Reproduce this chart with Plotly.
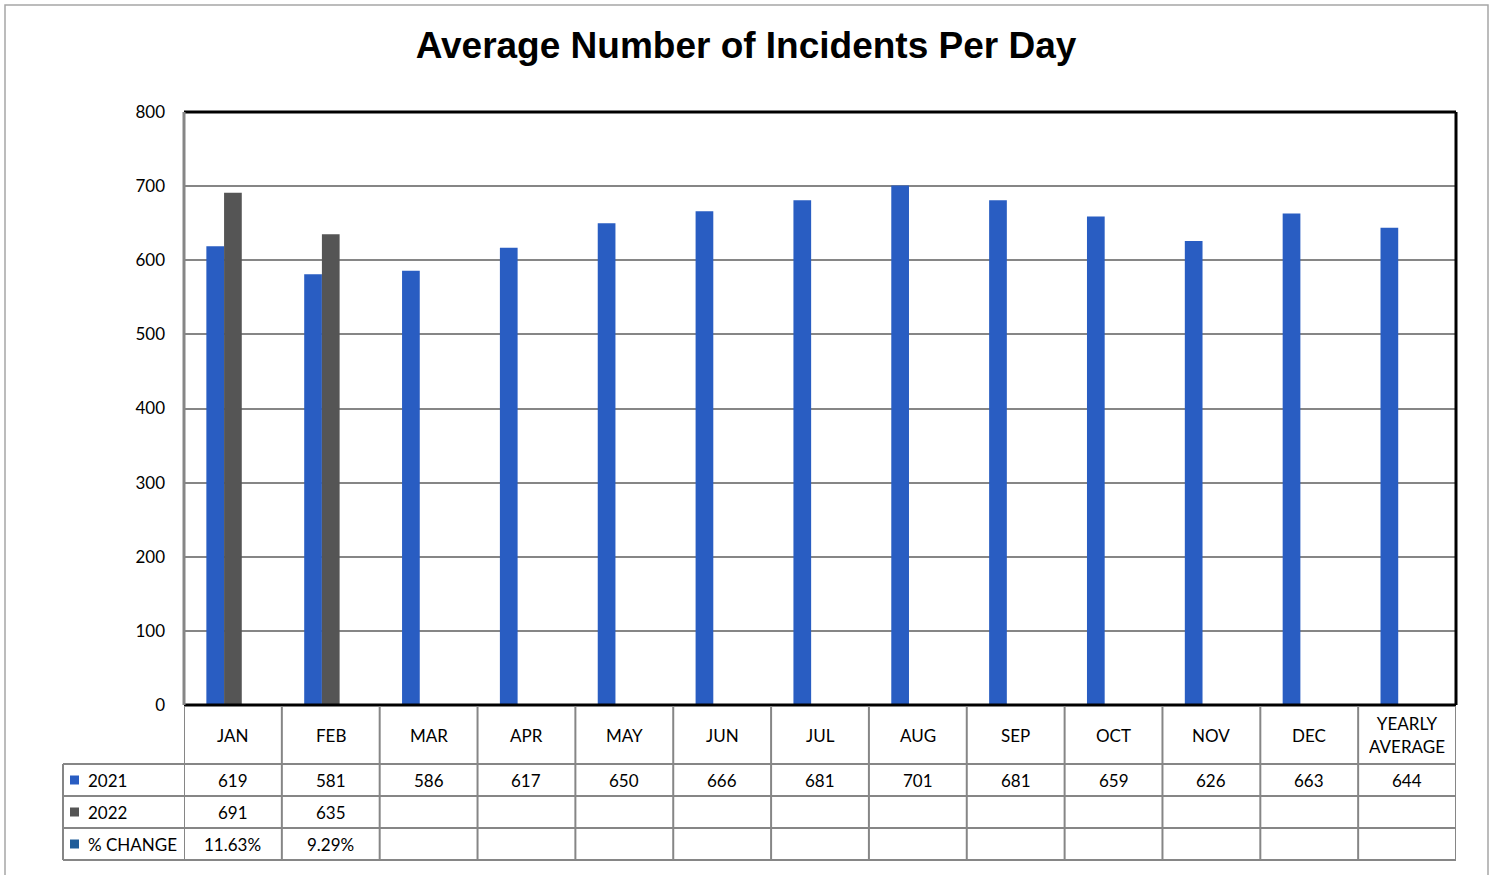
import plotly.graph_objects as go

categories = ["JAN", "FEB", "MAR", "APR", "MAY", "JUN", "JUL", "AUG", "SEP", "OCT", "NOV", "DEC", "YEARLY AVERAGE"]
header_labels = ["JAN", "FEB", "MAR", "APR", "MAY", "JUN", "JUL", "AUG", "SEP", "OCT", "NOV", "DEC", "YEARLY<br>AVERAGE"]
values_2021 = [619, 581, 586, 617, 650, 666, 681, 701, 681, 659, 626, 663, 644]
values_2022 = [691, 635, None, None, None, None, None, None, None, None, None, None, None]
pct_change = [0.1163, 0.0929, None, None, None, None, None, None, None, None, None, None, None]
pct_change_text = ["11.63%", "9.29%", "", "", "", "", "", "", "", "", "", "", ""]
series_names = ["2021", "2022", "% CHANGE"]
series_colors = ["#295DC2", "#555555", "#1F5C99"]

W, H = 1494, 875
L, R, T, B = 184, 38, 112, 170
PW, PH = W - L - R, H - T - B

def py(pixel_y):
    return (H - B - pixel_y) / PH

def px(pixel_x):
    return (pixel_x - L) / PW

fig = go.Figure()
for name, vals, col in zip(series_names, [values_2021, values_2022, pct_change], series_colors):
    fig.add_trace(go.Bar(x=categories, y=vals, name=name, marker=dict(color=col, line=dict(width=0))))

font = "Lato, 'Noto Sans', sans-serif"
grid = "#868686"
shapes = []
annotations = []

# plot-area frame
shapes.append(dict(type="line", xref="paper", yref="paper", x0=0, x1=1, y0=1, y1=1, line=dict(color="black", width=3)))
shapes.append(dict(type="line", xref="paper", yref="paper", x0=1, x1=1, y0=0, y1=1, line=dict(color="black", width=3)))
shapes.append(dict(type="line", xref="paper", yref="paper", x0=0, x1=1, y0=0, y1=0, line=dict(color="black", width=3)))
shapes.append(dict(type="line", xref="paper", yref="paper", x0=0, x1=0, y0=0, y1=1, line=dict(color=grid, width=3)))

# outer chart border
shapes.append(dict(type="rect", xref="paper", yref="paper", x0=px(5), x1=px(1488), y0=py(5), y1=py(900),
                   line=dict(color="#A6A6A6", width=1.5)))

# data table grid
row_y = [py(706), py(764), py(796), py(828), py(860)]
label_x = px(63)
n = len(categories)
for i in range(n + 1):
    shapes.append(dict(type="line", xref="x", yref="paper", x0=i - 0.5, x1=i - 0.5, y0=row_y[0], y1=row_y[4],
                       line=dict(color=grid, width=2)))
shapes.append(dict(type="line", xref="paper", yref="paper", x0=label_x, x1=label_x, y0=row_y[1], y1=row_y[4],
                   line=dict(color=grid, width=2)))
for k in range(1, 5):
    shapes.append(dict(type="line", xref="paper", yref="paper", x0=label_x, x1=1, y0=row_y[k], y1=row_y[k],
                       line=dict(color=grid, width=2)))

# header labels
for i, lab in enumerate(header_labels):
    annotations.append(dict(x=i, y=(row_y[0] + row_y[1]) / 2, xref="x", yref="paper", text=lab, showarrow=False,
                            font=dict(family=font, size=17, color="black"), xanchor="center", yanchor="middle",
                            height=52 if "<br>" in lab else None))

rows = [[str(v) for v in values_2021],
        [("" if v is None else str(v)) for v in values_2022],
        pct_change_text]
for r, row in enumerate(rows):
    yc = (row_y[r + 1] + row_y[r + 2]) / 2
    for i, t in enumerate(row):
        if t:
            annotations.append(dict(x=i, y=yc, xref="x", yref="paper", text=t, showarrow=False,
                                    font=dict(family=font, size=17, color="black"), xanchor="center", yanchor="middle"))
    # legend key
    shapes.append(dict(type="rect", xref="paper", yref="paper", x0=px(70), x1=px(79), y0=yc - 4.5 / PH, y1=yc + 4.5 / PH,
                       fillcolor=series_colors[r], line=dict(width=0)))
    annotations.append(dict(x=px(86), y=yc, xref="paper", yref="paper", text=series_names[r], showarrow=False,
                            font=dict(family=font, size=17, color="black"), xanchor="left", yanchor="middle"))

fig.update_layout(
    width=W, height=H,
    margin=dict(l=L, r=R, t=T, b=B, autoexpand=False),
    paper_bgcolor="white", plot_bgcolor="white",
    barmode="group", bargap=0.457, bargroupgap=0,
    showlegend=False,
    title=dict(text="<b>Average Number of Incidents Per Day</b>", x=746 / W, xref="container", xanchor="center",
               y=1 - 45 / H, yref="container", yanchor="middle",
               font=dict(family="'Liberation Sans', Arial, sans-serif", size=37, color="black")),
    xaxis=dict(range=[-0.5, n - 0.5], showticklabels=False, showgrid=False, zeroline=False, ticks="", fixedrange=True),
    yaxis=dict(range=[0, 800], dtick=100, showgrid=True, gridcolor=grid, gridwidth=2, zeroline=False,
               ticks="", ticklabelstandoff=18,
               tickfont=dict(family=font, size=17, color="black")),
    shapes=shapes, annotations=annotations,
)

fig.write_html("out.html", config={"displayModeBar": False},
               post_script="document.body.style.margin='0px';document.body.style.overflow='hidden';")
